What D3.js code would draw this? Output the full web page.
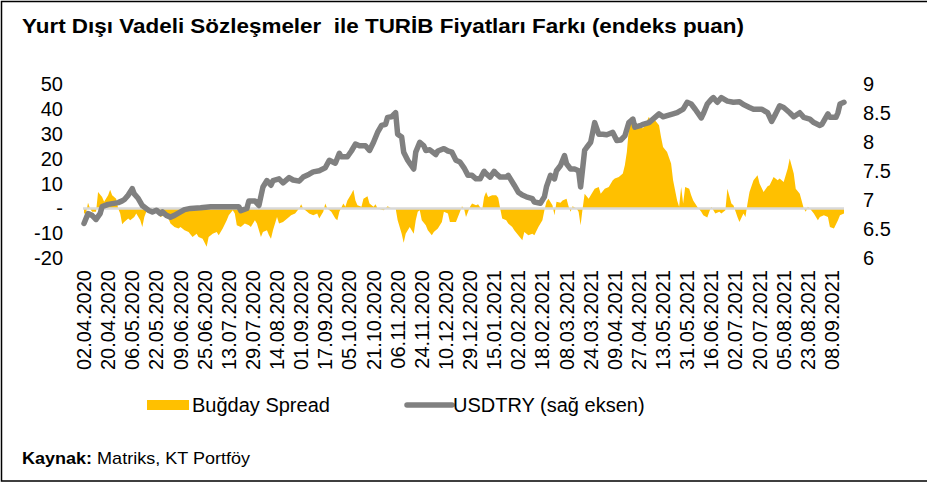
<!DOCTYPE html>
<html>
<head>
<meta charset="utf-8">
<script src="https://cdn.jsdelivr.net/npm/d3@7"></script>
<style>
  body { margin: 0; background: #fff; }
  svg text { font-family: "Liberation Sans", Arial, sans-serif; fill: #000; }
</style>
</head>
<body>
<svg id="chart" width="929" height="485"></svg>
<script>
// x axis labels, one every 12 trading days
dateLabels = ["02.04.2020","20.04.2020","06.05.2020","22.05.2020","09.06.2020","25.06.2020",
  "13.07.2020","29.07.2020","14.08.2020","01.09.2020","17.09.2020","05.10.2020","21.10.2020",
  "06.11.2020","24.11.2020","10.12.2020","29.12.2020","15.01.2021","02.02.2021","18.02.2021",
  "08.03.2021","24.03.2021","09.04.2021","27.04.2021","13.05.2021","31.05.2021","16.06.2021",
  "02.07.2021","20.07.2021","05.08.2021","23.08.2021","08.09.2021"];
labelStep = 12;
lastDay = 378;

// [trading day, spread (endeks puan)]
spreadPoints = [[0,-2],[1,-2],[2,2.3],[3,0],[4,-1.3],[6,-1.3],[7,6.7],[9,4.7],[10,2.7],[12,5.4],
  [13,7.6],[14,5.4],[16,4],[17,0],[18,-2],[19,-6.3],[20,-5.4],[22,-4],[23,-4.7],[25,-3.4],[26,-2],
  [28,-4.7],[29,-7.4],[30,-3.4],[31,-1.3],[33,-0.7],[34,-1.3],[37,-2],[38,-3.4],[40,-2.7],[42,-4],
  [43,-6],[45,-7.4],[47,-8],[48,-7.4],[50,-8.7],[52,-9.4],[54,-11.4],[56,-10.1],[57,-11.4],[59,-12.1],
  [61,-15.4],[62,-11.4],[64,-10.1],[66,-9.4],[67,-10.7],[69,-8],[71,-4.7],[72,-2.7],[74,-0.7],[75,-2],
  [76,-6.7],[78,-7.4],[80,-6],[82,-6.7],[83,-7.4],[85,-4.7],[86,-6],[88,-11.4],[89,-9.4],[91,-8.7],
  [92,-10.7],[93,-12.1],[94,-8.7],[96,-3.4],[97,-6],[99,-5.4],[102,-3.4],[103,-2.7],[105,-2],[107,0],
  [108,1.7],[109,0],[111,-1.3],[112,-2],[114,-2.7],[116,-2],[117,-4],[119,-1.3],[120,2],[121,0],
  [123,-1.3],[125,-4],[126,-4.7],[127,-1.3],[129,2],[130,0.7],[131,3.3],[133,6],[134,7.6],[135,3.3],
  [136,1.3],[138,0.7],[139,4],[141,5],[142,2],[144,0.7],[145,1.7],[146,0],[149,-0.7],[150,0],[151,0.9],
  [153,0],[155,0],[156,-4.7],[158,-10.1],[159,-13.7],[160,-10.1],[162,-7.4],[164,-10.1],[165,-4.7],
  [166,-1.3],[167,-0.7],[168,-4.7],[170,-6.7],[171,-8.7],[173,-10.7],[174,-9.4],[176,-8],[178,-5.4],
  [179,-1.3],[181,-2],[182,-5.4],[184,-5.4],[185,-5.4],[187,-1.3],[188,0.9],[189,0],[190,-3.4],[192,0.7],
  [193,2],[195,1.3],[196,1.7],[198,-0.7],[199,4.7],[200,6.7],[201,4.7],[203,5.4],[205,5.4],[206,4.4],
  [207,0],[208,-4],[210,-4.7],[211,-6],[213,-7.4],[214,-8.7],[216,-10.7],[218,-12.7],[219,-9.4],
  [221,-10.7],[223,-10.1],[224,-10.7],[226,-7.4],[228,-4.7],[229,-0.7],[230,2.7],[231,4],[233,1.3],
  [234,-2.7],[235,2.7],[237,2.3],[238,3.3],[240,4],[241,0.9],[242,-1.3],[243,0.9],[245,0],[246,-1.3],
  [247,-6.7],[248,0],[249,6],[251,4],[253,6.7],[254,8],[256,8.7],[257,6],[259,8],[261,8.7],[263,11.4],
  [264,12.1],[266,12.7],[268,14.1],[269,17.4],[270,22.8],[271,32.2],[272,36.9],[273,32.2],[276,34.2],
  [278,32.2],[281,36.9],[282,34.2],[284,35.5],[286,33.5],[287,28.8],[288,24.8],[290,22.8],[292,18.1],
  [293,11.4],[295,3.3],[296,0.7],[297,8.7],[298,2],[299,8.7],[301,8],[302,5.4],[303,3.3],[305,0.7],
  [307,-1.3],[308,-2.7],[310,-3.6],[311,-1.3],[312,0.7],[314,-2],[316,-1.3],[317,-2],[319,-0.7],[320,8],
  [322,2],[323,1.3],[325,-3.4],[326,-5.4],[328,-2],[329,-3.4],[330,2],[331,6.7],[333,11.4],[335,13.4],
  [336,10.1],[338,6.7],[340,9],[341,9.4],[343,12.7],[345,11.4],[346,12.1],[348,10.7],[350,16.1],
  [351,20.1],[353,14.1],[354,8],[356,6],[358,0],[359,-1.3],[360,0.7],[361,0],[363,-2],[365,-4.7],
  [366,-3.4],[368,-2.7],[370,-3.4],[371,-7.4],[373,-8],[375,-4.7],[376,-2.7],[378,-2]];

// [trading day, USDTRY]
usdPoints = [[0,6.60],[2,6.77],[4,6.74],[6,6.67],[8,6.77],[9,6.89],[12,6.93],[17,6.96],[19,6.99],
  [20,7.01],[22,7.09],[24,7.20],[25,7.11],[27,7.03],[29,6.91],[32,6.83],[34,6.80],[36,6.83],[38,6.77],
  [39,6.80],[41,6.74],[43,6.71],[45,6.74],[48,6.80],[50,6.84],[53,6.86],[58,6.87],[63,6.89],[77,6.89],
  [78,6.82],[81,6.86],[82,6.99],[85,6.99],[87,6.91],[89,7.23],[91,7.34],[93,7.26],[94,7.34],[97,7.37],
  [99,7.30],[102,7.39],[104,7.35],[107,7.33],[109,7.40],[112,7.45],[114,7.49],[117,7.51],[120,7.56],
  [122,7.69],[125,7.64],[127,7.81],[128,7.75],[131,7.75],[133,7.85],[135,7.97],[137,7.94],[140,7.94],
  [142,7.86],[144,8.00],[146,8.17],[148,8.29],[150,8.31],[151,8.43],[153,8.44],[155,8.51],[156,8.14],
  [158,8.09],[159,7.83],[161,7.69],[162,7.64],[164,7.54],[165,7.83],[167,8.00],[169,7.94],[170,7.86],
  [172,7.87],[175,7.79],[176,7.85],[179,7.89],[181,7.85],[183,7.83],[185,7.69],[187,7.66],[189,7.56],
  [191,7.43],[193,7.43],[195,7.37],[197,7.37],[199,7.50],[200,7.46],[202,7.40],[204,7.50],[205,7.46],
  [207,7.40],[210,7.40],[211,7.43],[214,7.26],[216,7.14],[218,7.09],[220,7.06],[223,7.03],[224,6.97],
  [227,6.95],[229,7.06],[230,7.23],[232,7.43],[234,7.37],[235,7.51],[237,7.60],[239,7.77],[240,7.63],
  [242,7.54],[244,7.54],[246,7.51],[247,7.23],[249,7.86],[250,7.91],[252,8.00],[253,8.17],[254,8.34],
  [256,8.14],[258,8.14],[260,8.13],[263,8.17],[265,8.03],[267,8.04],[269,8.11],[271,8.34],[273,8.40],
  [274,8.26],[277,8.29],[278,8.31],[281,8.34],[283,8.40],[286,8.49],[288,8.44],[290,8.46],[293,8.49],
  [295,8.51],[298,8.57],[300,8.69],[302,8.66],[304,8.57],[307,8.42],[308,8.49],[310,8.66],[312,8.74],
  [313,8.77],[315,8.69],[317,8.77],[320,8.71],[323,8.69],[326,8.70],[328,8.65],[331,8.60],[333,8.57],
  [337,8.57],[340,8.51],[342,8.36],[344,8.49],[346,8.63],[348,8.60],[351,8.51],[353,8.44],[356,8.51],
  [358,8.43],[361,8.40],[363,8.34],[366,8.29],[367,8.31],[370,8.49],[371,8.43],[374,8.43],[375,8.51],
  [376,8.66],[378,8.69]];

leftTicks = [-20,-10,0,10,20,30,40,50];
rightTicks = [6,6.5,7,7.5,8,8.5,9];

title = "Yurt Dışı Vadeli Sözleşmeler  ile TURİB Fiyatları Farkı (endeks puan)";
legendNames = ["Buğday Spread", "USDTRY (sağ eksen)"];

var svg = d3.select("#chart");

// frame
svg.append("path")
  .attr("d", "M927,1.5 H1.5 V481 H927")
  .attr("fill", "none")
  .attr("stroke", "#000")
  .attr("stroke-width", 1.5);

svg.append("text")
  .attr("x", 22).attr("y", 33)
  .attr("textLength", 722)
  .attr("lengthAdjust", "spacingAndGlyphs")
  .style("font-size", "21px").style("font-weight", "bold")
  .style("white-space", "pre")
  .text(title);

var x = d3.scaleLinear().domain([0, lastDay]).range([84, 844]);
var yL = d3.scaleLinear().domain([-20, 50]).range([258.3, 84.3]);
var yR = d3.scaleLinear().domain([6, 9]).range([258.3, 84.3]);

// spread area
var area = d3.area()
  .x(d => x(d[0]))
  .y0(yL(0))
  .y1(d => yL(d[1]));
svg.append("path")
  .datum(spreadPoints)
  .attr("d", area)
  .attr("fill", "#FFC000");

// zero line
svg.append("line")
  .attr("x1", x(0) - 1).attr("x2", x(lastDay))
  .attr("y1", yL(0)).attr("y2", yL(0))
  .attr("stroke", "#D9D9D9")
  .attr("stroke-width", 2.5);

// usd line
var line = d3.line()
  .x(d => x(d[0]))
  .y(d => yR(d[1]));
svg.append("path")
  .datum(usdPoints)
  .attr("d", line)
  .attr("fill", "none")
  .attr("stroke", "#808080")
  .attr("stroke-width", 5.5)
  .attr("stroke-linejoin", "round")
  .attr("stroke-linecap", "round");

// left axis
var leftAxis = d3.axisLeft(yL).tickValues(leftTicks)
  .tickSize(0).tickPadding(0)
  .tickFormat(d => d === 0 ? "-" : d);
svg.append("g")
  .attr("transform", "translate(63,0)")
  .call(leftAxis)
  .call(g => g.select(".domain").remove())
  .selectAll("text")
  .style("font-size", "20px")
  .attr("fill", "#000")
  .attr("font-family", "Liberation Sans, Arial, sans-serif");

// right axis
var rightAxis = d3.axisRight(yR).tickValues(rightTicks)
  .tickSize(0).tickPadding(0)
  .tickFormat(d => String(d));
svg.append("g")
  .attr("transform", "translate(863,0)")
  .call(rightAxis)
  .call(g => g.select(".domain").remove())
  .selectAll("text")
  .style("font-size", "20px")
  .attr("fill", "#000")
  .attr("font-family", "Liberation Sans, Arial, sans-serif");

// x labels
svg.append("g")
  .selectAll("text")
  .data(dateLabels)
  .join("text")
  .attr("transform", (d, i) => "translate(" + x(i * labelStep) + ",270) rotate(-90)")
  .attr("text-anchor", "end")
  .attr("dy", "0.35em")
  .style("font-size", "20px")
  .text(d => d);

// legend
svg.append("rect")
  .attr("x", 147).attr("y", 400).attr("width", 42).attr("height", 10)
  .attr("fill", "#FFC000");
svg.append("text")
  .attr("x", 192).attr("y", 412)
  .style("font-size", "20px")
  .text(legendNames[0]);
svg.append("line")
  .attr("x1", 407).attr("x2", 452).attr("y1", 405).attr("y2", 405)
  .attr("stroke", "#808080").attr("stroke-width", 5.5)
  .attr("stroke-linecap", "round");
svg.append("text")
  .attr("x", 453).attr("y", 412)
  .style("font-size", "20px")
  .text(legendNames[1]);

// source
var src = svg.append("text")
  .attr("x", 22).attr("y", 464)
  .attr("textLength", 228)
  .attr("lengthAdjust", "spacingAndGlyphs")
  .style("font-size", "17px");
src.append("tspan").style("font-weight", "bold").text("Kaynak:");
src.append("tspan").text(" Matriks, KT Portföy");
</script>
</body>
</html>
